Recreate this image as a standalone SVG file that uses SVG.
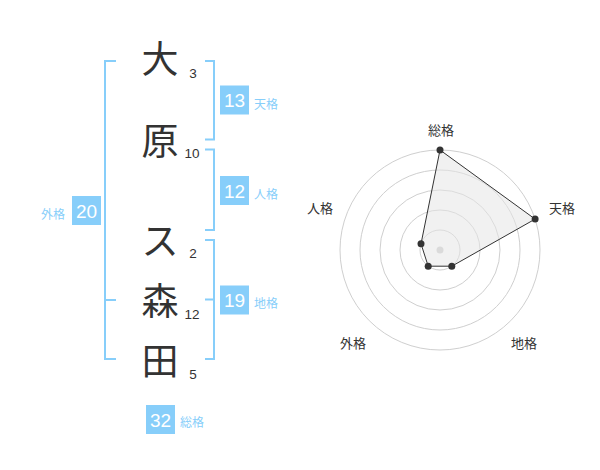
<svg xmlns="http://www.w3.org/2000/svg" width="600" height="470" viewBox="0 0 600 470">
<style>
.ch{font-family:"Noto Sans CJK JP","Noto Sans CJK SC",sans-serif;font-size:37px;fill:#333;text-anchor:middle}
.num{font-family:"Liberation Sans",Arial,sans-serif;font-size:13.5px;fill:#333;text-anchor:middle}
.br{fill:none;stroke:#87cefa;stroke-width:2}
.box{fill:#87cefa}
.bt{font-family:"Liberation Sans",Arial,sans-serif;font-size:19px;fill:#fff;text-anchor:middle}
.lb{font-family:"Noto Sans CJK JP","Noto Sans CJK SC",sans-serif;font-size:12px;fill:#87cefa}
.ring{fill:none;stroke:#cfcfcf;stroke-width:1}
.rl{font-family:"Noto Sans CJK JP","Noto Sans CJK SC",sans-serif;font-size:13px;fill:#333;text-anchor:middle}
.dot{fill:#333}
</style>
<rect width="600" height="470" fill="#fff"/>
<g id="name">
<text class="ch" x="160" y="73">大</text>
<text class="ch" x="160" y="154.5">原</text>
<text class="ch" x="160" y="254.5">ス</text>
<text class="ch" x="160" y="315">森</text>
<text class="ch" x="160" y="375">田</text>
<text class="num" x="193" y="77.5">3</text>
<text class="num" x="192" y="158">10</text>
<text class="num" x="193" y="258">2</text>
<text class="num" x="192" y="318.5">12</text>
<text class="num" x="193" y="378.5">5</text>
</g>
<g id="connectors">
<path class="br" d="M116,61 H105 V359 H116 M105,300 H116"/>
<path class="br" d="M205,61 H214 V139.5 H205"/>
<path class="br" d="M205,149.5 H214 V230 H205"/>
<path class="br" d="M205,240 H214 V359 H205 M214,299.5 H205"/>
</g>
<g id="tenkaku">
<rect class="box" x="220" y="85.5" width="29" height="29"/>
<text class="bt" x="234.5" y="107">13</text>
<text class="lb" x="254" y="108.5">天格</text>
</g>
<g id="jinkaku">
<rect class="box" x="220" y="176" width="29" height="29"/>
<text class="bt" x="234.5" y="197.5">12</text>
<text class="lb" x="254" y="198.5">人格</text>
</g>
<g id="chikaku">
<rect class="box" x="220" y="285.5" width="29" height="29"/>
<text class="bt" x="234.5" y="307">19</text>
<text class="lb" x="254" y="308">地格</text>
</g>
<g id="gaikaku">
<rect class="box" x="72" y="196" width="29" height="29"/>
<text class="bt" x="86.5" y="217.5">20</text>
<text class="lb" x="41" y="218.5">外格</text>
</g>
<g id="soukaku">
<rect class="box" x="146" y="405" width="29" height="29"/>
<text class="bt" x="160.5" y="426.5">32</text>
<text class="lb" x="180" y="427">総格</text>
</g>
<g id="radar">
<circle class="ring" cx="440" cy="250" r="20"/>
<circle class="ring" cx="440" cy="250" r="40"/>
<circle class="ring" cx="440" cy="250" r="60"/>
<circle class="ring" cx="440" cy="250" r="80"/>
<circle class="ring" cx="440" cy="250" r="100"/>
<circle cx="440" cy="250" r="3.5" fill="#cccccc"/>
<polygon points="440,150 535.1,219.1 451.8,266.2 428.2,266.2 421,243.8" fill="#e6e6e6" fill-opacity="0.55" stroke="#333" stroke-width="1"/>
<circle class="dot" cx="440" cy="150" r="3.5"/>
<circle class="dot" cx="535.1" cy="219.1" r="3.5"/>
<circle class="dot" cx="451.8" cy="266.2" r="3.5"/>
<circle class="dot" cx="428.2" cy="266.2" r="3.5"/>
<circle class="dot" cx="421" cy="243.8" r="3.5"/>
<text class="rl" x="441" y="134.5">総格</text>
<text class="rl" x="562" y="212.5">天格</text>
<text class="rl" x="320" y="212.5">人格</text>
<text class="rl" x="353" y="347.5">外格</text>
<text class="rl" x="524" y="347.5">地格</text>
</g>
</svg>
